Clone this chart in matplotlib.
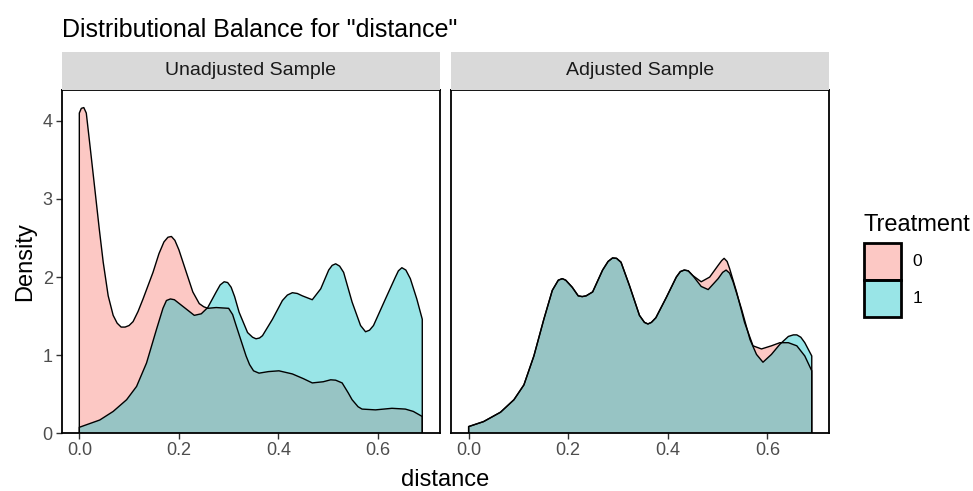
import numpy as np
import matplotlib
matplotlib.use("Agg")
import matplotlib.pyplot as plt
from matplotlib.patches import Rectangle

plt.rcParams['font.family'] = ['Liberation Sans', 'DejaVu Sans']

# --- data ---
# Unadjusted sample, treatment 0
unadj_x0 = [0.0, 0.004, 0.009, 0.014, 0.022, 0.032, 0.040, 0.048, 0.058, 0.068, 0.076,
            0.084, 0.092, 0.100, 0.108, 0.118, 0.128, 0.148, 0.160, 0.170, 0.178, 0.185,
            0.192, 0.200, 0.215, 0.228, 0.241, 0.250, 0.258, 0.275, 0.300, 0.308, 0.315,
            0.335, 0.342, 0.350, 0.361, 0.380, 0.401, 0.428, 0.450, 0.468, 0.490, 0.505,
            0.515, 0.528, 0.540, 0.548, 0.560, 0.568, 0.595, 0.628, 0.655, 0.671, 0.689]
unadj_d0 = [4.10, 4.16, 4.17, 4.10, 3.65, 3.08, 2.62, 2.19, 1.76, 1.51, 1.41,
            1.36, 1.36, 1.38, 1.43, 1.56, 1.72, 2.06, 2.30, 2.45, 2.51, 2.52,
            2.47, 2.35, 2.06, 1.81, 1.66, 1.62, 1.60, 1.61, 1.60, 1.52, 1.38,
            0.99, 0.88, 0.80, 0.77, 0.79, 0.80, 0.76, 0.70, 0.645, 0.66, 0.685,
            0.68, 0.645, 0.52, 0.43, 0.34, 0.31, 0.30, 0.32, 0.31, 0.28, 0.215]
# Unadjusted sample, treatment 1
unadj_x1 = [0.0, 0.041, 0.068, 0.095, 0.115, 0.135, 0.155, 0.168, 0.175, 0.183, 0.191,
            0.211, 0.231, 0.245, 0.258, 0.275, 0.283, 0.291, 0.298, 0.305, 0.312, 0.321,
            0.338, 0.348, 0.355, 0.362, 0.368, 0.388, 0.408, 0.418, 0.428, 0.438, 0.448,
            0.468, 0.485, 0.501, 0.508, 0.515, 0.523, 0.531, 0.548, 0.565, 0.575, 0.583,
            0.591, 0.615, 0.635, 0.641, 0.648, 0.656, 0.665, 0.678, 0.689]
unadj_d1 = [0.077, 0.17, 0.28, 0.43, 0.60, 0.90, 1.33, 1.60, 1.70, 1.72, 1.71,
            1.61, 1.51, 1.53, 1.61, 1.81, 1.90, 1.94, 1.93, 1.87, 1.75, 1.55,
            1.29, 1.23, 1.21, 1.22, 1.25, 1.46, 1.70, 1.77, 1.80, 1.79, 1.76,
            1.71, 1.85, 2.09, 2.15, 2.17, 2.14, 2.06, 1.68, 1.38, 1.30, 1.32,
            1.38, 1.72, 2.00, 2.08, 2.12, 2.09, 1.98, 1.72, 1.46]
# Adjusted sample, treatment 0
adj_x0 = [0.0, 0.030, 0.064, 0.091, 0.111, 0.131, 0.151, 0.168, 0.180, 0.188, 0.195,
          0.208, 0.220, 0.228, 0.236, 0.249, 0.269, 0.280, 0.289, 0.297, 0.306, 0.323,
          0.343, 0.353, 0.360, 0.367, 0.376, 0.397, 0.417, 0.425, 0.433, 0.441, 0.450,
          0.467, 0.484, 0.501, 0.508, 0.513, 0.519, 0.524, 0.538, 0.554, 0.571, 0.588,
          0.608, 0.625, 0.642, 0.659, 0.675, 0.689]
adj_d0 = [0.086, 0.15, 0.27, 0.43, 0.62, 0.99, 1.46, 1.83, 1.96, 1.98, 1.96,
          1.87, 1.76, 1.75, 1.76, 1.81, 2.09, 2.20, 2.245, 2.24, 2.19, 1.89,
          1.51, 1.42, 1.40, 1.42, 1.48, 1.74, 2.00, 2.07, 2.09, 2.08, 2.02,
          1.94, 2.00, 2.15, 2.21, 2.24, 2.20, 2.11, 1.81, 1.42, 1.12, 1.08,
          1.12, 1.16, 1.16, 1.12, 0.99, 0.80]
# Adjusted sample, treatment 1
adj_x1 = [0.0, 0.030, 0.064, 0.091, 0.111, 0.131, 0.151, 0.168, 0.180, 0.188, 0.195,
          0.208, 0.220, 0.228, 0.236, 0.249, 0.269, 0.280, 0.289, 0.297, 0.306, 0.323,
          0.343, 0.353, 0.360, 0.367, 0.376, 0.397, 0.417, 0.425, 0.433, 0.441, 0.450,
          0.467, 0.481, 0.501, 0.510, 0.517, 0.524, 0.531, 0.548, 0.565, 0.578, 0.591,
          0.608, 0.625, 0.642, 0.652, 0.659, 0.667, 0.675, 0.689]
adj_d1 = [0.086, 0.15, 0.27, 0.43, 0.62, 0.99, 1.46, 1.83, 1.96, 1.98, 1.96,
          1.87, 1.76, 1.75, 1.76, 1.81, 2.09, 2.20, 2.245, 2.24, 2.19, 1.89,
          1.51, 1.42, 1.40, 1.42, 1.48, 1.74, 2.00, 2.07, 2.09, 2.08, 2.02,
          1.88, 1.84, 1.98, 2.06, 2.09, 2.05, 1.94, 1.59, 1.20, 1.01, 0.91,
          1.01, 1.14, 1.24, 1.26, 1.26, 1.23, 1.16, 0.99]

panel_names = ["Unadjusted Sample", "Adjusted Sample"]
treat_labels = ["0", "1"]
colors = ["#F8766D", "#00BFC4"]
x_ticks = [0.0, 0.2, 0.4, 0.6]
y_ticks = [0, 1, 2, 3, 4]

W, H = 973, 491
fig = plt.figure(figsize=(W / 100, H / 100), dpi=100)

def px(x0, y0, x1, y1):
    # pixel box -> figure fraction [left, bottom, width, height]
    return [x0 / W, 1 - y1 / H, (x1 - x0) / W, (y1 - y0) / H]

panels = [(61.7, 439.5), (451, 829)]
series = [[(unadj_x0, unadj_d0), (unadj_x1, unadj_d1)],
          [(adj_x0, adj_d0), (adj_x1, adj_d1)]]

for i, (l, r) in enumerate(panels):
    ax = fig.add_axes(px(l, 90, r, 433.3))
    for (xs, ds), c in zip(series[i], colors):
        ax.fill_between(xs, 0, ds, facecolor=c, alpha=0.4, edgecolor="none")
        ax.plot([xs[0]] + list(xs) + [xs[-1]], [0] + list(ds) + [0],
                color="black", lw=1.0, solid_joinstyle="round")
    ax.set_xlim(-0.0354, 0.7236)
    ax.set_ylim(0, 4.395)
    ax.set_xticks(x_ticks)
    ax.set_xticklabels(["0.0", "0.2", "0.4", "0.6"])
    ax.tick_params(axis="both", length=4, width=1, color="#333333",
                   labelcolor="#4D4D4D", labelsize=13, pad=2.5)
    if i == 0:
        ax.set_yticks(y_ticks)
    else:
        ax.set_yticks([])
    for s in ax.spines.values():
        s.set_linewidth(1.3)
        s.set_color("black")
    # strip
    sax = fig.add_axes(px(l, 51.7, r, 90))
    sax.set_facecolor("#D9D9D9")
    sax.set_xticks([])
    sax.set_yticks([])
    for s in sax.spines.values():
        s.set_visible(False)
    sax.text(0.5, 0.5, panel_names[i], ha="center", va="center",
             fontsize=14, color="#1A1A1A", transform=sax.transAxes)

fig.text(62 / W, 1 - 36.7 / H, 'Distributional Balance for "distance"',
         fontsize=18, ha="left", va="baseline", color="black")
fig.text(445.4 / W, 1 - 486 / H, "distance", fontsize=17, ha="center", va="baseline")
fig.text(25 / W, 1 - 262 / H, "Density", fontsize=17, rotation=90, ha="center", va="center")

# legend
fig.text(864 / W, 1 - 230.7 / H, "Treatment", fontsize=17, ha="left", va="baseline")
key_tops = [243.3, 280]
for k, (top, c) in enumerate(zip(key_tops, colors)):
    fig.add_artist(Rectangle((864 / W, 1 - (top + 36.7) / H), 37 / W, 36.7 / H,
                             transform=fig.transFigure, facecolor=c, alpha=0.4,
                             edgecolor="none"))
    fig.add_artist(Rectangle((864 / W, 1 - (top + 36.7) / H), 37 / W, 36.7 / H,
                             transform=fig.transFigure, facecolor="none",
                             edgecolor="black", lw=2))
    fig.text(912.7 / W, 1 - (top + 18.3) / H, treat_labels[k], fontsize=12.5,
             ha="left", va="center", color="black")

fig.savefig("out.png", dpi=100)
